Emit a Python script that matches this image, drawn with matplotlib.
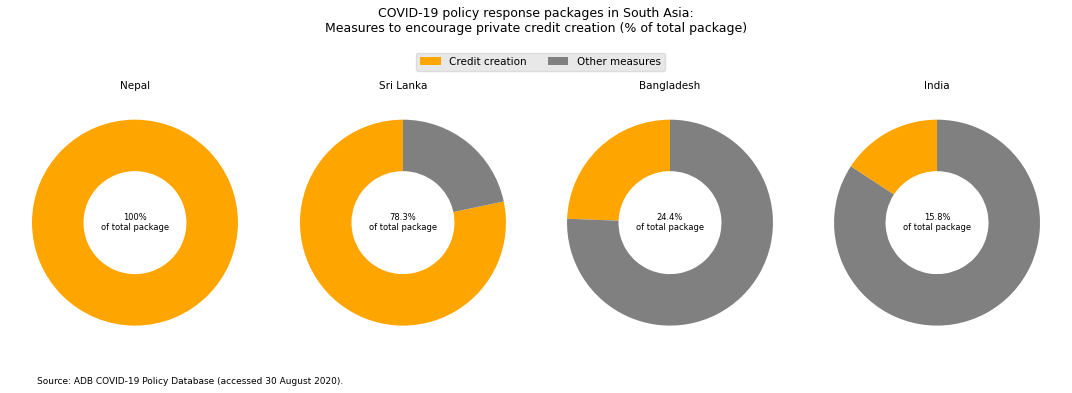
import matplotlib.pyplot as plt

countries = ["Nepal", "Sri Lanka", "Bangladesh", "India"]
credit_share = [100.0, 78.3, 24.4, 15.8]
center_labels = ["100%", "78.3%", "24.4%", "15.8%"]
legend_labels = ["Credit creation", "Other measures"]
colors = ["orange", "gray"]

fig = plt.figure(figsize=(10.72, 3.93), dpi=100)

lefts = [0.0058, 0.2558, 0.5049, 0.754]
for left, name, share, lab in zip(lefts, countries, credit_share, center_labels):
    ax = fig.add_axes([left, 0.106, 0.2402, 0.655])
    wedges, _ = ax.pie([share, 100 - share], colors=colors, startangle=90,
                       counterclock=True, wedgeprops=dict(width=0.5))
    ax.text(0, 0, f"{lab}\nof total package", ha="center", va="center", fontsize=6)
    ax.set_title(name, fontsize=7.5, pad=3.5)

fig.suptitle("COVID-19 policy response packages in South Asia:\n"
             "Measures to encourage private credit creation (% of total package)",
             fontsize=9, y=0.982)
leg = fig.legend(wedges, legend_labels, loc="center", bbox_to_anchor=(0.504, 0.843),
                 ncol=2, fontsize=7.5, frameon=True, fancybox=True,
                 handlelength=2.0, columnspacing=2.0, handletextpad=0.8)
leg.get_frame().set_facecolor("#e8e8e8")
leg.get_frame().set_edgecolor("#dcdcdc")
leg.get_frame().set_alpha(1)

fig.text(0.0345, 0.03, "Source: ADB COVID-19 Policy Database (accessed 30 August 2020).",
         fontsize=6.5, ha="left", va="center")

fig.savefig("out.png", dpi=100)
